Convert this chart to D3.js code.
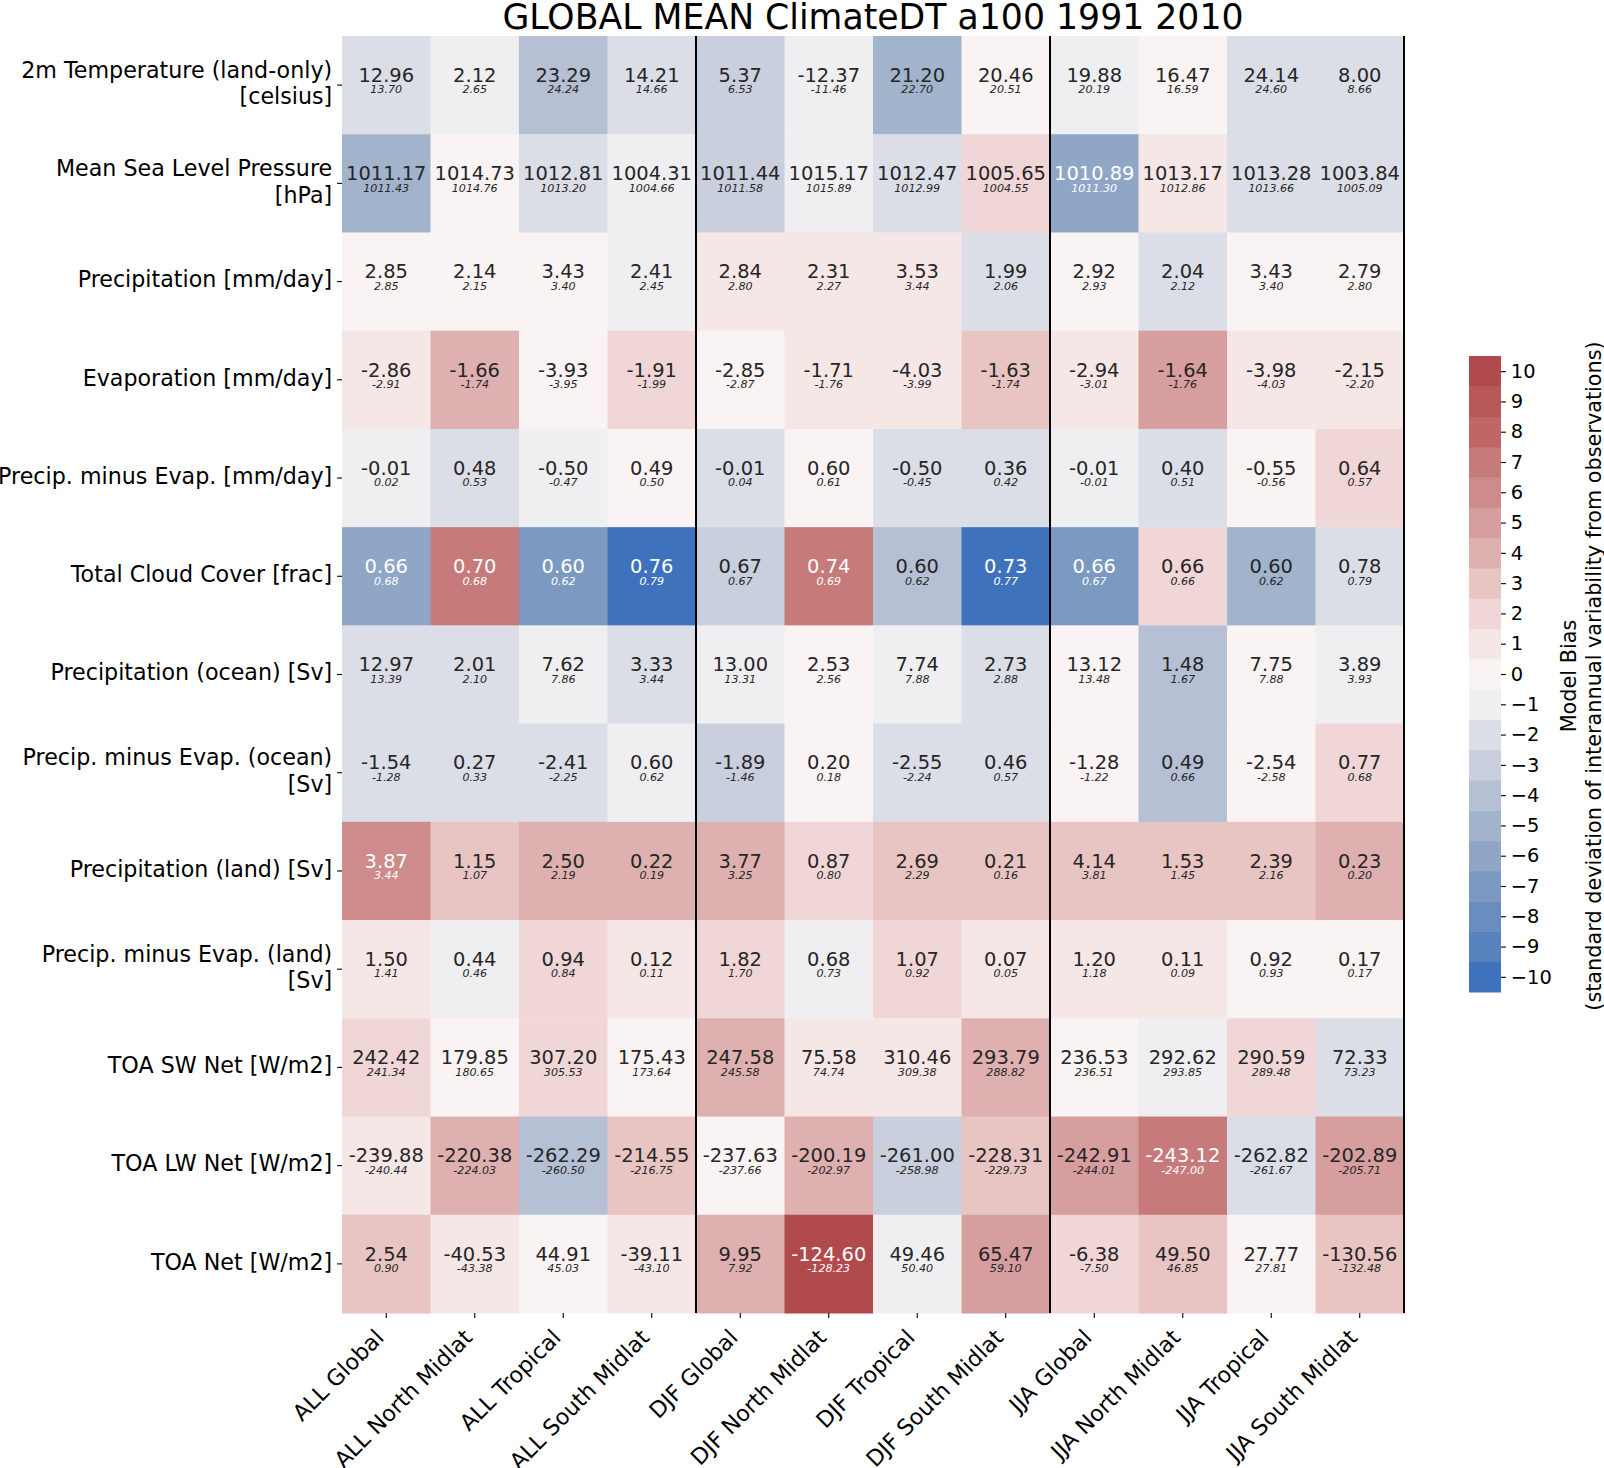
<!DOCTYPE html>
<html><head><meta charset="utf-8">
<script src="https://cdn.jsdelivr.net/npm/d3@7"></script>
<style>body{margin:0;background:#fff} svg{display:block} text{font-family:"DejaVu Sans",sans-serif}</style>
</head><body><svg id="chart" width="1604" height="1468"></svg>
<script>
const columns = ["ALL Global", "ALL North Midlat", "ALL Tropical", "ALL South Midlat",
  "DJF Global", "DJF North Midlat", "DJF Tropical", "DJF South Midlat",
  "JJA Global", "JJA North Midlat", "JJA Tropical", "JJA South Midlat"];
const rowLabels = [
  ["2m Temperature (land-only)", "[celsius]"],
  ["Mean Sea Level Pressure", "[hPa]"],
  ["Precipitation [mm/day]"],
  ["Evaporation [mm/day]"],
  ["Precip. minus Evap. [mm/day]"],
  ["Total Cloud Cover [frac]"],
  ["Precipitation (ocean) [Sv]"],
  ["Precip. minus Evap. (ocean)", "[Sv]"],
  ["Precipitation (land) [Sv]"],
  ["Precip. minus Evap. (land)", "[Sv]"],
  ["TOA SW Net [W/m2]"],
  ["TOA LW Net [W/m2]"],
  ["TOA Net [W/m2]"]
];
const modelValues = [
  [12.96, 2.12, 23.29, 14.21, 5.37, -12.37, 21.20, 20.46, 19.88, 16.47, 24.14, 8.00],
  [1011.17, 1014.73, 1012.81, 1004.31, 1011.44, 1015.17, 1012.47, 1005.65, 1010.89, 1013.17, 1013.28, 1003.84],
  [2.85, 2.14, 3.43, 2.41, 2.84, 2.31, 3.53, 1.99, 2.92, 2.04, 3.43, 2.79],
  [-2.86, -1.66, -3.93, -1.91, -2.85, -1.71, -4.03, -1.63, -2.94, -1.64, -3.98, -2.15],
  [-0.01, 0.48, -0.50, 0.49, -0.01, 0.60, -0.50, 0.36, -0.01, 0.40, -0.55, 0.64],
  [0.66, 0.70, 0.60, 0.76, 0.67, 0.74, 0.60, 0.73, 0.66, 0.66, 0.60, 0.78],
  [12.97, 2.01, 7.62, 3.33, 13.00, 2.53, 7.74, 2.73, 13.12, 1.48, 7.75, 3.89],
  [-1.54, 0.27, -2.41, 0.60, -1.89, 0.20, -2.55, 0.46, -1.28, 0.49, -2.54, 0.77],
  [3.87, 1.15, 2.50, 0.22, 3.77, 0.87, 2.69, 0.21, 4.14, 1.53, 2.39, 0.23],
  [1.50, 0.44, 0.94, 0.12, 1.82, 0.68, 1.07, 0.07, 1.20, 0.11, 0.92, 0.17],
  [242.42, 179.85, 307.20, 175.43, 247.58, 75.58, 310.46, 293.79, 236.53, 292.62, 290.59, 72.33],
  [-239.88, -220.38, -262.29, -214.55, -237.63, -200.19, -261.00, -228.31, -242.91, -243.12, -262.82, -202.89],
  [2.54, -40.53, 44.91, -39.11, 9.95, -124.60, 49.46, 65.47, -6.38, 49.50, 27.77, -130.56]
];
const obsValues = [
  [13.70, 2.65, 24.24, 14.66, 6.53, -11.46, 22.70, 20.51, 20.19, 16.59, 24.60, 8.66],
  [1011.43, 1014.76, 1013.20, 1004.66, 1011.58, 1015.89, 1012.99, 1004.55, 1011.30, 1012.86, 1013.66, 1005.09],
  [2.85, 2.15, 3.40, 2.45, 2.80, 2.27, 3.44, 2.06, 2.93, 2.12, 3.40, 2.80],
  [-2.91, -1.74, -3.95, -1.99, -2.87, -1.76, -3.99, -1.74, -3.01, -1.76, -4.03, -2.20],
  [0.02, 0.53, -0.47, 0.50, 0.04, 0.61, -0.45, 0.42, -0.01, 0.51, -0.56, 0.57],
  [0.68, 0.68, 0.62, 0.79, 0.67, 0.69, 0.62, 0.77, 0.67, 0.66, 0.62, 0.79],
  [13.39, 2.10, 7.86, 3.44, 13.31, 2.56, 7.88, 2.88, 13.48, 1.67, 7.88, 3.93],
  [-1.28, 0.33, -2.25, 0.62, -1.46, 0.18, -2.24, 0.57, -1.22, 0.66, -2.58, 0.68],
  [3.44, 1.07, 2.19, 0.19, 3.25, 0.80, 2.29, 0.16, 3.81, 1.45, 2.16, 0.20],
  [1.41, 0.46, 0.84, 0.11, 1.70, 0.73, 0.92, 0.05, 1.18, 0.09, 0.93, 0.17],
  [241.34, 180.65, 305.53, 173.64, 245.58, 74.74, 309.38, 288.82, 236.51, 293.85, 289.48, 73.23],
  [-240.44, -224.03, -260.50, -216.75, -237.66, -202.97, -258.98, -229.73, -244.01, -247.00, -261.67, -205.71],
  [0.90, -43.38, 45.03, -43.10, 7.92, -128.23, 50.40, 59.10, -7.50, 46.85, 27.81, -132.48]
];
// model bias in units of interannual standard deviation (binned)
const biasLevels = [
  [-2, -1, -4, -2, -3, -1, -5, 0, -1, 0, -2, -2],
  [-5, 0, -2, -1, -3, -1, -2, 2, -6, 1, -2, -2],
  [0, 0, 0, -1, 1, 1, 1, -2, 0, -2, 0, 0],
  [1, 4, 0, 2, 0, 1, 1, 3, 1, 5, 1, 1],
  [-1, -2, -1, 0, -2, 0, -2, -2, -1, -2, 0, 2],
  [-6, 7, -7, -10, -3, 7, -4, -10, -7, 2, -5, -2],
  [-2, -2, -1, -2, -1, 0, -1, -2, 0, -4, 0, -1],
  [-2, -2, -2, -1, -3, 0, -2, -2, 0, -4, 0, 2],
  [6, 3, 4, 4, 4, 2, 3, 3, 3, 3, 3, 4],
  [1, -1, 2, 1, 2, -1, 2, 1, 1, 1, 0, 0],
  [2, 0, 2, 0, 4, 1, 1, 4, 0, -1, 2, -2],
  [1, 4, -4, 3, 0, 4, -3, 3, 5, 7, -2, 5],
  [3, 1, 0, 1, 4, 10, -1, 5, 2, 3, 0, 3]
];
const colorbarTicks = d3.range(-10, 11);
const biasPalette = ["#3f72bc", "#5882bd", "#6a8dc0", "#7c99c2", "#8fa6c7", "#a2b3cc", "#b5c0d4",
  "#c9cfdd", "#dbdee7", "#efeff2", "#f9f3f3", "#f6e7e7", "#f0d6d6", "#e8c4c3", "#dfb0b0",
  "#d69e9e", "#cd8b8b", "#c67a7a", "#bf6667", "#b95859", "#b14a4c"];

const svg = d3.select("#chart");
const x = d3.scaleBand().domain(d3.range(columns.length)).range([342, 1404]);
const y = d3.scaleBand().domain(d3.range(rowLabels.length)).range([36, 1313]);
const color = d3.scaleQuantize().domain([-10.5, 10.5]).range(biasPalette);

function lum(c) {
  const rgb = d3.rgb(c);
  const f = v => { v /= 255; return v <= 0.03928 ? v / 12.92 : Math.pow((v + 0.055) / 1.055, 2.4); };
  return 0.2126 * f(rgb.r) + 0.7152 * f(rgb.g) + 0.0722 * f(rgb.b);
}
const textColor = lvl => lum(color(lvl)) > 0.408 ? "#262626" : "#ffffff";

const cells = [];
biasLevels.forEach((row, i) => row.forEach((lvl, j) => cells.push({i, j, lvl, m: modelValues[i][j], o: obsValues[i][j]})));

const g = svg.append("g");
g.selectAll("rect.cell").data(cells).join("rect").attr("class", "cell")
  .attr("x", d => x(d.j)).attr("y", d => y(d.i))
  .attr("width", x.bandwidth() + 0.5).attr("height", y.bandwidth() + 0.5)
  .attr("fill", d => color(d.lvl));

const cx = d => x(d.j) + x.bandwidth() / 2, cy = d => y(d.i) + y.bandwidth() / 2;
g.selectAll("text.main").data(cells).join("text").attr("class", "main")
  .attr("x", cx).attr("y", d => cy(d) - 3.3)
  .attr("text-anchor", "middle").attr("font-size", 19.44)
  .attr("fill", d => textColor(d.lvl)).text(d => d.m.toFixed(2));
g.selectAll("text.sub").data(cells).join("text").attr("class", "sub")
  .attr("x", cx).attr("y", d => cy(d) + 8.3)
  .attr("text-anchor", "middle").attr("font-size", 11.1).attr("font-style", "italic")
  .attr("fill", d => textColor(d.lvl)).text(d => d.o.toFixed(2));

// separators
[4, 8, 12].forEach(k => {
  const xx = k < columns.length ? x(k) : x.range()[1];
  svg.append("line").attr("x1", xx).attr("x2", xx).attr("y1", y.range()[0]).attr("y2", y.range()[1])
    .attr("stroke", "#000").attr("stroke-width", 2);
});

// y axis
const yAxis = svg.append("g").attr("transform", "translate(342,0)")
  .call(d3.axisLeft(y).tickSize(4.9).tickPadding(4.9).tickFormat(""));
yAxis.select(".domain").remove();
yAxis.selectAll(".tick line").attr("stroke", "#000").attr("stroke-width", 1.1);
yAxis.selectAll(".tick").each(function (i) {
  const lines = rowLabels[i];
  const t = d3.select(this).select("text").attr("font-size", 22.2).attr("fill", "#000")
    .attr("font-family", "DejaVu Sans").attr("dy", null).attr("y", 0).attr("text-anchor", "end");
  const base = 5.8 - (lines.length - 1) * 13.35;
  lines.forEach((s, k) => t.append("tspan").attr("x", -9.8).attr("y", base + k * 26.7).text(s));
});

// x axis
const xAxis = svg.append("g").attr("transform", `translate(0,${y.range()[1]})`)
  .call(d3.axisBottom(x).tickSize(4.9).tickPadding(4.9).tickFormat(i => columns[i]));
xAxis.select(".domain").remove();
xAxis.selectAll(".tick line").attr("stroke", "#000").attr("stroke-width", 1.1);
xAxis.selectAll(".tick text").attr("font-size", 22.2).attr("fill", "#000").attr("font-family", "DejaVu Sans")
  .attr("text-anchor", "end").attr("y", 0).attr("x", 0).attr("dy", "0.76em")
  .attr("transform", "translate(-13,14) rotate(-45)");

// title
svg.append("text").attr("x", (x.range()[0] + x.range()[1]) / 2).attr("y", 28.5)
  .attr("text-anchor", "middle").attr("font-size", 34.7).attr("fill", "#000")
  .text("GLOBAL MEAN ClimateDT a100 1991 2010");

// colorbar
const cb = d3.scaleLinear().domain([-10.5, 10.5]).range([992, 356]);
const cbX = 1469, cbW = 32;
svg.append("g").selectAll("rect").data(colorbarTicks).join("rect")
  .attr("x", cbX).attr("width", cbW)
  .attr("y", d => cb(d + 0.5)).attr("height", d => cb(d - 0.5) - cb(d + 0.5) + 0.5)
  .attr("fill", d => color(d));
const cbAxis = svg.append("g").attr("transform", `translate(${cbX + cbW},0)`)
  .call(d3.axisRight(cb).tickValues(colorbarTicks).tickSize(4.9).tickPadding(4.9)
    .tickFormat(d => d < 0 ? "\u2212" + Math.abs(d) : String(d)));
cbAxis.select(".domain").remove();
cbAxis.selectAll(".tick line").attr("stroke", "#000").attr("stroke-width", 1.1);
cbAxis.selectAll(".tick text").attr("font-size", 19.44).attr("fill", "#000").attr("font-family", "DejaVu Sans");
const cbMid = (cb.range()[0] + cb.range()[1]) / 2 + 2;
[["Model Bias", 1575.5], ["(standard deviation of interannual variability from observations)", 1600.5]].forEach(([s, xx]) => {
  svg.append("text").attr("transform", `translate(${xx},${cbMid}) rotate(-90)`)
    .attr("text-anchor", "middle").attr("font-size", 20.8).attr("fill", "#000").text(s);
});
</script></body></html>
